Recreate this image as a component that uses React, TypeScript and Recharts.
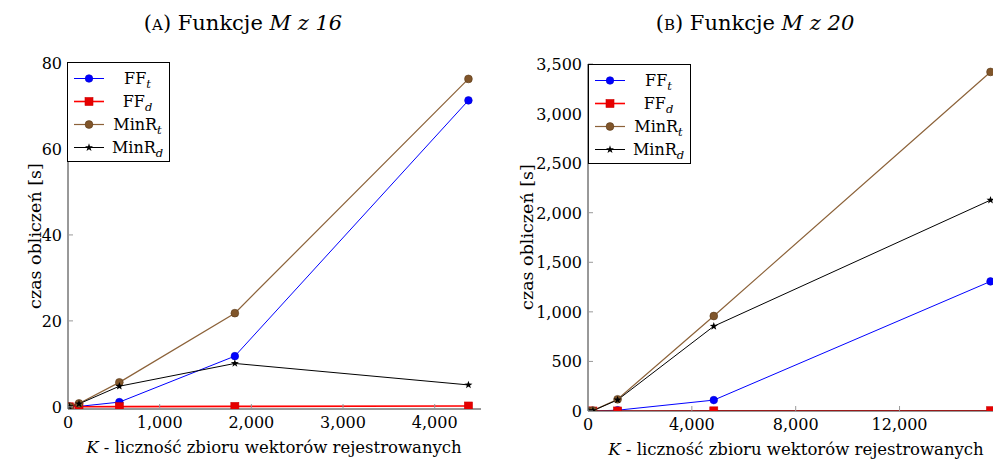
import React from "react";
import { Line, LineChart, XAxis, YAxis } from "recharts";

// M z 16: K = C(16, k), k = 1..5
const k16 = [16, 120, 560, 1820, 4368];
const ffT16 = [0.02, 0.1, 1.1, 11.8, 71.3];
const ffD16 = [0.01, 0.02, 0.05, 0.1, 0.2];
const minT16 = [0.05, 0.8, 5.7, 21.8, 76.3];
const minD16 = [0.05, 0.7, 4.8, 10.1, 5.1];

// M z 20: K = C(20, k), k = 1..5
const k20 = [20, 190, 1140, 4845, 15504];
const ffT20 = [0.05, 0.5, 8, 110, 1307];
const ffD20 = [0.01, 0.05, 0.3, 1.5, 3];
const minT20 = [0.3, 4, 118, 958, 3420];
const minD20 = [0.3, 3.5, 112, 855, 2127];

const xTicks16 = [0, 1000, 2000, 3000, 4000];
const yTicks16 = [0, 20, 40, 60, 80];
const xTicks20 = [0, 4000, 8000, 12000];
const yTicks20 = [0, 500, 1000, 1500, 2000, 2500, 3000, 3500];

const FONT = '"DejaVu Serif", "Liberation Serif", serif';
const fmt = (v: number) => v.toLocaleString("en-US");

type Row = { k: number; ffT: number; ffD: number; minT: number; minD: number };

const buildRows = (k: number[], a: number[], b: number[], c: number[], d: number[]): Row[] =>
  k.map((kv, i) => ({ k: kv, ffT: a[i], ffD: b[i], minT: c[i], minD: d[i] }));

const rows16 = buildRows(k16, ffT16, ffD16, minT16, minD16);
const rows20 = buildRows(k20, ffT20, ffD20, minT20, minD20);

const starPoints = (cx: number, cy: number, r: number) => {
  const pts: string[] = [];
  for (let i = 0; i < 10; i++) {
    const rr = i % 2 === 0 ? r : r * 0.4;
    const a = -Math.PI / 2 + (i * Math.PI) / 5;
    pts.push(`${cx + rr * Math.cos(a)},${cy + rr * Math.sin(a)}`);
  }
  return pts.join(" ");
};

type Mark = "circleBlue" | "square" | "circleBrown" | "star";

function Marker({ kind, cx, cy }: { kind: Mark; cx: number; cy: number }) {
  if (kind === "circleBlue") return <circle cx={cx} cy={cy} r={3.8} fill="#0000ff" stroke="#0000cc" strokeWidth={0.6} />;
  if (kind === "circleBrown") return <circle cx={cx} cy={cy} r={3.9} fill="#80552a" stroke="#5a3a1a" strokeWidth={0.6} />;
  if (kind === "square") return <rect x={cx - 4} y={cy - 4} width={8} height={8} fill="#e60000" stroke="#cc0000" strokeWidth={0.6} />;
  return <polygon points={starPoints(cx, cy, 4.2)} fill="#000" />;
}

const series: { key: keyof Row; color: string; width: number; mark: Mark; name: string; sub: string }[] = [
  { key: "ffT", color: "#0000ff", width: 1, mark: "circleBlue", name: "FF", sub: "t" },
  { key: "ffD", color: "#ff0000", width: 1.6, mark: "square", name: "FF", sub: "d" },
  { key: "minT", color: "#8c6239", width: 1.2, mark: "circleBrown", name: "MinR", sub: "t" },
  { key: "minD", color: "#000000", width: 1, mark: "star", name: "MinR", sub: "d" },
];

const labelStyle = { fontFamily: FONT, fontSize: 16, fill: "#000" };

const BottomTick = (props: any) => {
  const { x, y, payload } = props;
  return (
    <g>
      <line x1={x} x2={x} y1={y} y2={y - 5} stroke="#999" strokeWidth={1} />
      <text x={x} y={y + 19} textAnchor="middle" style={labelStyle}>
        {fmt(payload.value)}
      </text>
    </g>
  );
};

const TopTick = (props: any) => {
  const { x, y } = props;
  return <line x1={x} x2={x} y1={y} y2={y + 5} stroke="#999" strokeWidth={1} />;
};

const LeftTick = (props: any) => {
  const { x, y, payload } = props;
  return (
    <g>
      <line x1={x} x2={x + 5} y1={y} y2={y} stroke="#999" strokeWidth={1} />
      <text x={x - 6} y={y + 6} textAnchor="end" style={labelStyle}>
        {fmt(payload.value)}
      </text>
    </g>
  );
};

const RightTick = (props: any) => {
  const { x, y } = props;
  return <line x1={x} x2={x - 5} y1={y} y2={y} stroke="#999" strokeWidth={1} />;
};

function LegendBox({ left, top }: { left: number; top: number }) {
  return (
    <div
      style={{
        position: "absolute",
        left,
        top,
        width: 103,
        height: 100,
        boxSizing: "border-box",
        border: "1px solid #000",
        background: "#fff",
        paddingTop: 4,
        fontFamily: FONT,
        fontSize: 16,
      }}
    >
      {series.map((s) => (
        <div key={s.key} style={{ display: "flex", alignItems: "center", height: 23 }}>
          <svg width={40} height={23} style={{ flex: "none" }}>
            <line x1={6} x2={36} y1={11.5} y2={11.5} stroke={s.color} strokeWidth={s.width} />
            <Marker kind={s.mark} cx={21} cy={11.5} />
          </svg>
          <div style={{ flex: 1, textAlign: "center", lineHeight: "23px", paddingRight: 2 }}>
            {s.name}
            <sub style={{ fontStyle: "italic", fontSize: 11.5, verticalAlign: -4, lineHeight: 0 }}>{s.sub}</sub>
          </div>
        </div>
      ))}
    </div>
  );
}

function Plot({
  rows,
  xDomain,
  yDomain,
  xTicks,
  yTicks,
  margin,
  yWidth,
}: {
  rows: Row[];
  xDomain: [number, number];
  yDomain: [number, number];
  xTicks: number[];
  yTicks: number[];
  margin: { top: number; right: number; bottom: number; left: number };
  yWidth: number;
}) {
  return (
    <LineChart width={495} height={462} data={rows} margin={margin}>
      <XAxis
        dataKey="k"
        type="number"
        domain={xDomain}
        ticks={xTicks}
        interval={0}
        allowDataOverflow
        height={25}
        tickSize={0}
        tickMargin={0}
        tickLine={false}
        axisLine={{ stroke: "#333" }}
        tick={<BottomTick />}
      />
      <XAxis
        xAxisId="top"
        dataKey="k"
        type="number"
        orientation="top"
        domain={xDomain}
        ticks={xTicks}
        interval={0}
        allowDataOverflow
        height={0}
        tickSize={0}
        tickMargin={0}
        tickLine={false}
        axisLine={{ stroke: "#333" }}
        tick={<TopTick />}
      />
      <YAxis
        type="number"
        domain={yDomain}
        ticks={yTicks}
        interval={0}
        allowDataOverflow
        width={yWidth}
        tickSize={0}
        tickMargin={0}
        tickLine={false}
        axisLine={{ stroke: "#333" }}
        tick={<LeftTick />}
      />
      <YAxis
        yAxisId="right"
        type="number"
        orientation="right"
        domain={yDomain}
        ticks={yTicks}
        interval={0}
        allowDataOverflow
        width={0}
        tickSize={0}
        tickMargin={0}
        tickLine={false}
        axisLine={{ stroke: "#333" }}
        tick={<RightTick />}
      />
      {series.map((s) => (
        <Line
          key={s.key}
          dataKey={s.key}
          type="linear"
          stroke={s.color}
          strokeWidth={s.width}
          isAnimationActive={false}
          dot={(p: any) => <Marker key={`${s.key}-${p.index}`} kind={s.mark} cx={p.cx} cy={p.cy} />}
          activeDot={false}
        />
      ))}
    </LineChart>
  );
}

const textBase: React.CSSProperties = {
  position: "absolute",
  fontFamily: FONT,
  color: "#000",
  whiteSpace: "nowrap",
};

function Title({ cx, letter, n }: { cx: number; letter: string; n: string }) {
  return (
    <div style={{ ...textBase, left: cx - 150, width: 300, top: 11, textAlign: "center", fontSize: 21 }}>
      (<span style={{ fontVariant: "small-caps" }}>{letter.toLowerCase()}</span>) Funkcje{" "}
      <i>M z {n}</i>
    </div>
  );
}

function XLabel({ cx, top }: { cx: number; top: number }) {
  return (
    <div style={{ ...textBase, left: cx - 250, width: 500, top, textAlign: "center", fontSize: 16.5 }}>
      <i>K</i> - liczność zbioru wektorów rejestrowanych
    </div>
  );
}

function YLabel({ x, cy }: { x: number; cy: number }) {
  return (
    <div
      style={{
        ...textBase,
        left: x - 100,
        top: cy - 12,
        width: 200,
        height: 24,
        lineHeight: "24px",
        textAlign: "center",
        fontSize: 17.5,
        transform: "rotate(-90deg)",
      }}
    >
      czas obliczeń [s]
    </div>
  );
}

export default function App() {
  return (
    <div style={{ position: "absolute", left: 0, top: 0, width: 995, height: 462, background: "#fff", overflow: "hidden" }}>
      <div style={{ position: "absolute", left: 0, top: 0 }}>
        <Plot
          rows={rows16}
          xDomain={[0, 4505]}
          yDomain={[-0.5, 80]}
          xTicks={xTicks16}
          yTicks={yTicks16}
          margin={{ top: 63, right: 14, bottom: 28, left: 10 }}
          yWidth={58}
        />
      </div>
      <div style={{ position: "absolute", left: 500, top: 0 }}>
        <Plot
          rows={rows20}
          xDomain={[0, 15600]}
          yDomain={[0, 3500]}
          xTicks={xTicks20}
          yTicks={yTicks20}
          margin={{ top: 64, right: 2, bottom: 26, left: 10 }}
          yWidth={78}
        />
      </div>
      <LegendBox left={67} top={62} />
      <LegendBox left={588} top={64} />
      <Title cx={243} letter="A" n="16" />
      <Title cx={755} letter="B" n="20" />
      <XLabel cx={274} top={438} />
      <XLabel cx={796} top={440} />
      <YLabel x={35} cy={236} />
      <YLabel x={527} cy={237} />
    </div>
  );
}
